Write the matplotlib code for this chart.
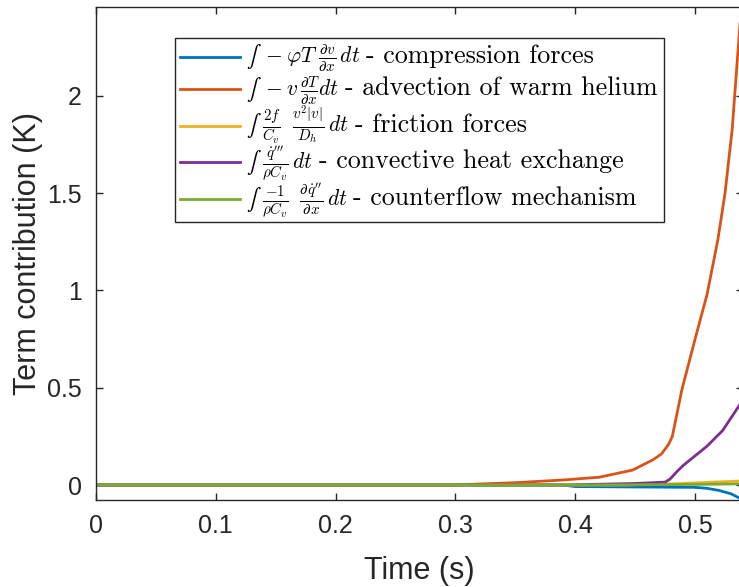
import matplotlib
matplotlib.use("Agg")
import matplotlib.pyplot as plt
from matplotlib.lines import Line2D
from matplotlib.patches import Rectangle

# Series data (time in s, contribution in K)
t_comp = [0, 0.39, 0.40, 0.45, 0.50, 0.51, 0.52, 0.53, 0.537, 0.54]
v_comp = [0, 0, -0.008, -0.010, -0.012, -0.017, -0.028, -0.045, -0.067, -0.08]

t_adv = [0, 0.30, 0.315, 0.35, 0.39, 0.42, 0.448, 0.465, 0.472, 0.478, 0.481,
         0.489, 0.50, 0.51, 0.519, 0.525, 0.531, 0.537, 0.54]
v_adv = [0, 0, 0.004, 0.012, 0.026, 0.040, 0.077, 0.13, 0.16, 0.21, 0.25,
         0.49, 0.75, 0.98, 1.26, 1.50, 1.83, 2.33, 2.58]

t_fric = [0, 0.44, 0.47, 0.49, 0.50, 0.52, 0.54]
v_fric = [0, 0, 0.004, 0.008, 0.011, 0.016, 0.021]

t_conv = [0, 0.39, 0.45, 0.475, 0.479, 0.485, 0.49, 0.50, 0.51, 0.523, 0.537, 0.54]
v_conv = [0, 0, 0.008, 0.015, 0.03, 0.07, 0.10, 0.15, 0.20, 0.28, 0.41, 0.44]

t_cflow = [0, 0.40, 0.50, 0.54]
v_cflow = [0, 0, 0.003, 0.006]

# legend texts: formula part and description part
math_labels = [
    "$\u222b\\ -\\varphi T\\;\\frac{\\partial v}{\\partial x}\\,dt$",
    "$\u222b\\ -v\\,\\frac{\\partial T}{\\partial x}dt$",
    "$\u222b\\ \\frac{2f}{C_v}\\;\\;\\frac{v^2|v|}{D_h}\\,dt$",
    "$\u222b\\ \\frac{\\dot{q}'''}{\\rho C_v}\\,dt$",
    "$\u222b\\ \\frac{-1}{\\rho C_v}\\;\\;\\frac{\\partial \\dot{q}''}{\\partial x}\\,dt$",
]
desc_labels = [
    "- compression forces",
    "- advection of warm helium",
    "- friction forces",
    "- convective heat exchange",
    "- counterflow mechanism",
]
colors = ["#0072BD", "#D95319", "#EDB120", "#7E2F8E", "#77AC30"]

plt.rcParams["mathtext.fontset"] = "cm"
plt.rcParams["font.family"] = "Liberation Sans"
plt.rcParams["axes.unicode_minus"] = False

W, H = 739, 587
fig = plt.figure(figsize=(W / 100, H / 100), dpi=100)
ax = fig.add_axes([96 / W, 87 / H, 647 / W, 493 / H])

series = [(t_comp, v_comp), (t_adv, v_adv), (t_fric, v_fric),
          (t_conv, v_conv), (t_cflow, v_cflow)]
for (t, v), c in zip(series, colors):
    ax.plot(t, v, color=c, linewidth=2.0)

ax.set_xlim(0, 0.54)
ax.set_ylim(-0.077, 2.457)
ax.set_xticks([0, 0.1, 0.2, 0.3, 0.4, 0.5])
ax.set_xticklabels(["0", "0.1", "0.2", "0.3", "0.4", "0.5"])
ax.set_yticks([0, 0.5, 1, 1.5, 2])
ax.set_yticklabels(["0", "0.5", "1", "1.5", "2"])

dark = "#262626"
ax.tick_params(direction="in", length=5, width=1, top=True, right=True,
               labelsize=18, colors=dark, pad=10)
for s in ax.spines.values():
    s.set_color(dark)
    s.set_linewidth(1)

ax.set_xlabel("Time (s)", fontsize=22, color=dark, labelpad=13)
ax.set_ylabel("Term contribution (K)", fontsize=22, color=dark, labelpad=3)

# legend box drawn by hand (rows are packed tighter than ax.legend allows)
def fx(px):
    return px / W

def fy(py):
    return 1 - py / H

fig.add_artist(Rectangle((fx(175), fy(222)), fx(664) - fx(175), fy(38) - fy(222),
                         transform=fig.transFigure, facecolor="white",
                         edgecolor=dark, linewidth=1, zorder=5))
fig.canvas.draw()
renderer = fig.canvas.get_renderer()
row_y = [57, 89, 126, 162, 199]
for y, c, m, d in zip(row_y, colors, math_labels, desc_labels):
    fig.add_artist(Line2D([fx(180), fx(240)], [fy(y), fy(y)], color=c,
                          linewidth=2.0, transform=fig.transFigure, zorder=6))
    tm = fig.text(fx(246), fy(y + 6), m, fontsize=15.5, va="baseline",
                  ha="left", zorder=6)
    bb = tm.get_window_extent(renderer=renderer)
    fig.text(fx(bb.x1 + 6), fy(y + 6), d, family="cmr10", fontsize=18.7,
             va="baseline", ha="left", zorder=6)

fig.savefig("out.png", dpi=100)
